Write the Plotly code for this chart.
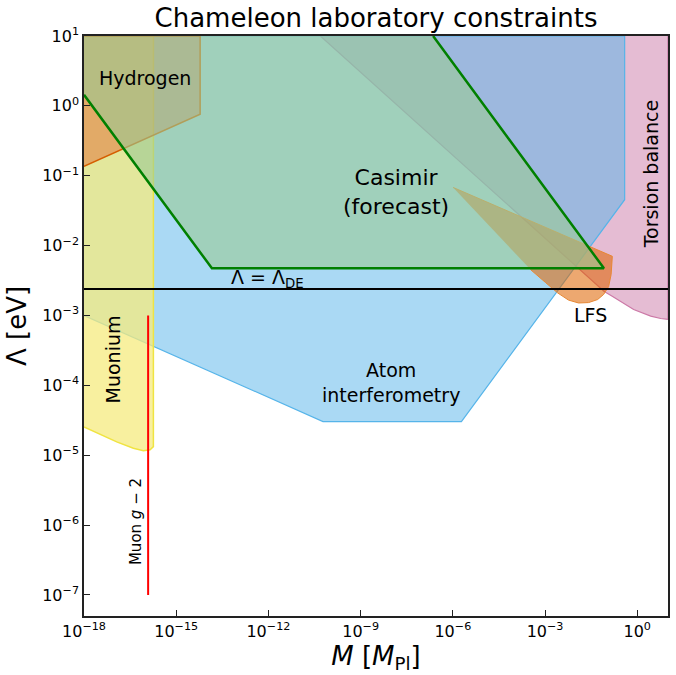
import math
import plotly.graph_objects as go

# ---------------- data (M in units of M_Pl, Lambda in eV) ----------------
torsion_M = [4.9e-11, 0.0303, 0.0513, 0.0822, 0.158, 0.288, 0.763, 2.74, 5.78, 10.0, 10.0]
torsion_L = [10.0, 3.38e-3, 2.68e-3, 2.22e-3, 1.87e-3, 1.6e-3, 1.22e-3, 9.8e-4, 9.06e-4, 8.8e-4, 10.0]

atom_M = [1e-18, 5.96e-11, 1.9e-6, 0.389, 0.389, 1e-18]
atom_L = [1e-3, 3.03e-5, 3.03e-5, 0.0454, 10.0, 10.0]

muonium_M = [1e-18, 1.81e-16, 1.81e-16, 1.41e-16, 8.55e-17, 4.04e-17, 1.16e-17, 3.32e-18, 1e-18]
muonium_L = [10.0, 10.0, 1.33e-5, 1.2e-5, 1.16e-5, 1.26e-5, 1.55e-5, 2.0e-5, 2.54e-5]

hydrogen_M = [1e-18, 6.0e-15, 6.0e-15, 1e-18]
hydrogen_L = [10.0, 10.0, 0.76, 0.136]

lfs_M = [1.02e-6, 0.1545, 0.141, 0.117, 0.0805, 0.0513, 0.0261, 0.0123, 5.82e-3, 2.55e-3, 1.04e-3, 3.37e-4]
lfs_L = [0.068, 7.03e-3, 3.85e-3, 2.59e-3, 2.0e-3, 1.69e-3, 1.53e-3, 1.51e-3, 1.66e-3, 2.11e-3, 2.96e-3, 4.54e-3]

casimir_M = [1e-18, 1.45e-14, 0.0822, 2.28e-7, 1e-18]
casimir_L = [1.44, 4.74e-3, 4.74e-3, 10.0, 10.0]

lambda_de = 2.4e-3
de_M = [1e-18, 10.0]

muon_g2_M = 1.22e-16
muon_g2_L = [1e-7, 1e-3]

x_range = [1e-18, 10.0]
y_range = [5e-8, 10.0]

x_tickvals = [1e-18, 1e-15, 1e-12, 1e-9, 1e-6, 1e-3, 1e0]
x_ticktext = ["10<sup>−18</sup>", "10<sup>−15</sup>", "10<sup>−12</sup>", "10<sup>−9</sup>",
              "10<sup>−6</sup>", "10<sup>−3</sup>", "10<sup>0</sup>"]
y_tickvals = [1e-7, 1e-6, 1e-5, 1e-4, 1e-3, 1e-2, 1e-1, 1e0, 1e1]
y_ticktext = ["10<sup>−7</sup>", "10<sup>−6</sup>", "10<sup>−5</sup>", "10<sup>−4</sup>",
              "10<sup>−3</sup>", "10<sup>−2</sup>", "10<sup>−1</sup>", "10<sup>0</sup>", "10<sup>1</sup>"]

# labels: (text, M, Lambda, size, angle)
labels = [
    ("Hydrogen", 9.7e-17, 2.5, 19, 0),
    ("Casimir<br>(forecast)", 1.46e-8, 0.059, 22, 0),
    ("Torsion balance", 2.73, 0.107, 19, -90),
    ("LFS", 0.0303, 1.0e-3, 19, 0),
    ("Atom<br>interferometry", 1.0e-8, 1.1e-4, 19, 0),
    ("Muonium", 8.8e-18, 2.35e-4, 19, -90),
    ("Muon <i>g</i> − 2", 4.9e-17, 1.14e-6, 15, -90),
    ("Λ = Λ<sub>DE</sub>", 9.1e-13, 3.4e-3, 19, 0),
]

title_text = "Chameleon laboratory constraints"
x_title = "<i>M</i> [<i>M</i><sub>Pl</sub>]"
y_title = "Λ [eV]"

FONT = "DejaVu Sans"

fig = go.Figure()


def region(M, L, fill, line, width):
    fig.add_trace(go.Scatter(x=M, y=L, mode="lines", fill="toself", fillcolor=fill,
                             line=dict(color=line, width=width),
                             hoverinfo="skip", showlegend=False))


region(torsion_M, torsion_L, "rgba(204,121,167,0.5)", "#CC79A7", 1.2)
region(atom_M, atom_L, "rgba(86,180,233,0.5)", "#56B4E9", 1.2)
region(muonium_M, muonium_L, "rgba(245,235,127,0.75)", "rgb(240,228,66)", 1.5)
region(hydrogen_M, hydrogen_L, "rgba(226,110,50,0.5)", "#D55E00", 1.5)
region(lfs_M, lfs_L, "rgba(223,100,0,0.56)", "rgb(232,135,50)", 1.0)
region(casimir_M, casimir_L, "rgba(153,202,149,0.6)", "rgba(0,0,0,0)", 0)

# Casimir forecast boundary
fig.add_trace(go.Scatter(x=casimir_M[:4], y=casimir_L[:4], mode="lines",
                         line=dict(color="#008000", width=2.5),
                         hoverinfo="skip", showlegend=False))
# Lambda = Lambda_DE
fig.add_trace(go.Scatter(x=de_M, y=[lambda_de, lambda_de], mode="lines",
                         line=dict(color="black", width=2),
                         hoverinfo="skip", showlegend=False))
# Muon g-2
fig.add_trace(go.Scatter(x=[muon_g2_M, muon_g2_M], y=muon_g2_L, mode="lines",
                         line=dict(color="red", width=2),
                         hoverinfo="skip", showlegend=False))

for text, m, lam, size, ang in labels:
    fig.add_annotation(text=text, x=math.log10(m), y=math.log10(lam), xref="x", yref="y",
                       showarrow=False, textangle=ang,
                       font=dict(family=FONT, size=size, color="black"))

axis_common = dict(type="log", showgrid=False, zeroline=False, ticks="inside", ticklen=6,
                   tickwidth=1.2, tickcolor="#222", showline=True, linecolor="#222",
                   linewidth=1.5, mirror=True, automargin=False,
                   tickfont=dict(family=FONT, size=16, color="black"))

fig.update_layout(
    width=676, height=675,
    margin=dict(l=84, r=8, t=36, b=59, autoexpand=False),
    paper_bgcolor="white", plot_bgcolor="white",
    font=dict(family=FONT, color="black"),
    title=dict(text=title_text, x=0.5, xref="paper", xanchor="center",
               y=1 - 18 / 675, yref="container", yanchor="middle",
               font=dict(family=FONT, size=26, color="black")),
    xaxis=dict(range=[math.log10(x_range[0]), math.log10(x_range[1])],
               tickvals=x_tickvals, ticktext=x_ticktext,
               title=dict(text=x_title, font=dict(family=FONT, size=26, color="black"), standoff=2),
               **axis_common),
    yaxis=dict(range=[math.log10(y_range[0]), math.log10(y_range[1])],
               tickvals=y_tickvals, ticktext=y_ticktext,
               title=dict(text=y_title, font=dict(family=FONT, size=26, color="black"), standoff=8),
               **axis_common),
)

fig.write_html("out.html", config={"displayModeBar": False},
               post_script="document.body.style.margin='0';document.body.style.overflow='hidden';")
